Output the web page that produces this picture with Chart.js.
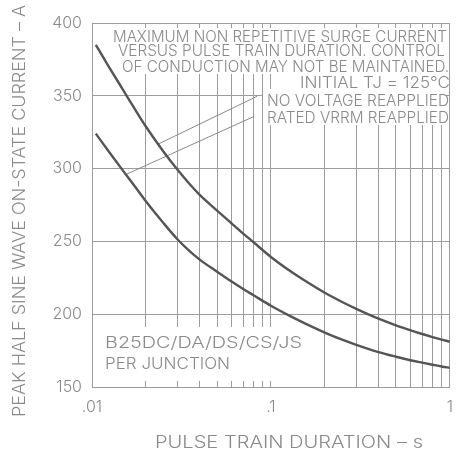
<!DOCTYPE html>
<html>
<head>
<meta charset="utf-8">
<script src="https://cdn.jsdelivr.net/npm/chart.js@4.4.1/dist/chart.umd.min.js"></script>
<style>
body { margin: 0; background: #fff; }
</style>
</head>
<body>
<canvas id="graphe" width="464" height="452"></canvas>
<script>
// durees du train d'impulsions (s)
var durees = [0.0105, 0.0125, 0.015, 0.0175, 0.02, 0.025, 0.03, 0.035, 0.04, 0.05, 0.06, 0.07, 0.08,
              0.1, 0.13, 0.16, 0.2, 0.25, 0.3, 0.4, 0.5, 0.6, 0.7, 0.8, 0.9, 1.0];
// courant de surcharge (A)
var courantSansTension = [385, 369.4, 353.6, 340.2, 328.9, 311.9, 299.3, 289.6, 282, 271.2, 262.6, 255.4, 249.4,
                          239.3, 229.1, 221.9, 214.7, 208.4, 203.7, 196.9, 192.3, 189, 186.4, 184.3, 182.6, 181.1];
var courantVrrm = [324, 311.2, 298.1, 287.2, 277.6, 262.8, 251.5, 243.5, 237.5, 229.2, 222.6, 217.3, 213,
                   205.8, 198.3, 192.8, 187.4, 182.5, 179, 174, 170.8, 168.4, 166.7, 165.3, 164.1, 163.2];

// reperes des legendes (points en coordonnees du graphe)
var repereSansTension = [{x: 0.0236, y: 317}, {x: 0.0838, y: 349.7}];
var repereVrrm = [{x: 0.0155, y: 296}, {x: 0.0807, y: 335.9}];

var grilleX = [0.01, 0.02, 0.03, 0.04, 0.05, 0.06, 0.07, 0.08, 0.09, 0.1, 0.2, 0.3, 0.4, 0.5, 0.6, 0.7, 0.8, 0.9, 1];
var valeursLabelsX = [0.01, 0.1, 1];
var labelsX = ['.01', '.1', '1'];
var yMin = 150, yMax = 400, yPas = 50;

var texteHaut = [
    'MAXIMUM NON REPETITIVE SURGE CURRENT',
    'VERSUS PULSE TRAIN DURATION. CONTROL',
    'OF CONDUCTION MAY NOT BE MAINTAINED.',
    'INITIAL TJ = 125\u00B0C',
    'NO VOLTAGE REAPPLIED',
    'RATED VRRM REAPPLIED'
];
var texteBas = ['B25DC/DA/DS/CS/JS', 'PER JUNCTION'];
var titreY = 'PEAK HALF SINE WAVE ON-STATE CURRENT \u2013 A';
var titreX = 'PULSE TRAIN DURATION \u2013 s';

var police = "Inter, 'DejaVu Sans', sans-serif";
var gris = '#8a8a8a';

function points(xs, ys)
{
    return xs.map(function (x, i) {
        return {x: x, y: ys[i]};
    });
}

// texte etire a une largeur donnee
function texteAjuste(ctx, txt, x, y, largeur, taille)
{
    ctx.save();
    ctx.font = '300 ' + taille + 'px ' + police;
    var w = ctx.measureText(txt).width;
    ctx.translate(x, y);
    ctx.scale(largeur / w, 1);
    ctx.textAlign = 'left';
    ctx.textBaseline = 'alphabetic';
    ctx.fillStyle = gris;
    ctx.fillText(txt, 0, 0);
    ctx.restore();
}

var pluginTextes = {
    id: 'textes',
    beforeDatasetsDraw: function (chart) {
        var ctx = chart.ctx, a = chart.chartArea;
        ctx.save();
        ctx.fillStyle = '#fff';
        // zones de texte : la grille s'arrete autour
        ctx.fillRect(a.left + 5, a.top + 5, a.right - a.left - 10, 74 - a.top - 5);
        ctx.fillRect(295, 74, a.right - 5 - 295, 16);
        ctx.fillRect(263, 89, a.right - 5 - 263, 36);
        ctx.fillRect(a.left + 5, 327, 282 - a.left - 5, 54);
        ctx.restore();
    },
    afterDraw: function (chart) {
        var ctx = chart.ctx;
        texteAjuste(ctx, texteHaut[0], 113, 42, 334, 16);
        texteAjuste(ctx, texteHaut[1], 118, 56, 327, 16);
        texteAjuste(ctx, texteHaut[2], 122, 72, 327, 16);
        texteAjuste(ctx, texteHaut[3], 300, 88, 150, 16);
        texteAjuste(ctx, texteHaut[4], 267, 106, 182, 16);
        texteAjuste(ctx, texteHaut[5], 267, 123, 182, 16);
        texteAjuste(ctx, texteBas[0], 105, 348, 197, 16);
        texteAjuste(ctx, texteBas[1], 105, 369, 125, 16);
        texteAjuste(ctx, titreX, 155, 448, 268, 17);

        ctx.save();
        ctx.translate(25, 417);
        ctx.rotate(-Math.PI / 2);
        texteAjuste(ctx, titreY, 0, 0, 412, 17);
        ctx.restore();
    }
};

var ctx = document.getElementById('graphe');

var graphe = new Chart(ctx, {
    type: 'line',
    data: {
        datasets: [{
            label: 'NO VOLTAGE REAPPLIED',
            data: points(durees, courantSansTension),
            borderColor: '#555',
            borderWidth: 2.4,
            pointRadius: 0,
            cubicInterpolationMode: 'monotone'
        }, {
            label: 'RATED VRRM REAPPLIED',
            data: points(durees, courantVrrm),
            borderColor: '#555',
            borderWidth: 2.4,
            pointRadius: 0,
            cubicInterpolationMode: 'monotone'
        }, {
            data: repereSansTension,
            borderColor: '#888',
            borderWidth: 1,
            pointRadius: 0
        }, {
            data: repereVrrm,
            borderColor: '#888',
            borderWidth: 1,
            pointRadius: 0
        }]
    },
    options: {
        responsive: false,
        animation: false,
        devicePixelRatio: 1,
        layout: {
            padding: {top: 23, right: 7, bottom: 0, left: 0}
        },
        plugins: {
            legend: {display: false},
            tooltip: {enabled: false}
        },
        scales: {
            x: {
                type: 'logarithmic',
                min: 0.01,
                max: 1,
                afterBuildTicks: function (scale) {
                    scale.ticks = grilleX.map(function (v) { return {value: v}; });
                },
                afterFit: function (scale) {
                    scale.height = 65;
                },
                grid: {color: '#9c9c9c', lineWidth: 1, drawTicks: false},
                border: {color: '#9c9c9c'},
                ticks: {
                    autoSkip: false,
                    maxRotation: 0,
                    padding: 11,
                    color: gris,
                    font: {family: police, size: 16, weight: 300},
                    callback: function (value) {
                        for (var i = 0; i < valeursLabelsX.length; i++) {
                            if (Math.abs(value - valeursLabelsX[i]) < 1e-9) {
                                return labelsX[i];
                            }
                        }
                        return '';
                    }
                }
            },
            y: {
                min: yMin,
                max: yMax,
                afterFit: function (scale) {
                    scale.width = 92;
                },
                grid: {color: '#9c9c9c', lineWidth: 1, drawTicks: false},
                border: {color: '#9c9c9c'},
                ticks: {
                    stepSize: yPas,
                    padding: 10,
                    color: gris,
                    font: {family: police, size: 16, weight: 300}
                }
            }
        }
    },
    plugins: [pluginTextes]
});
</script>
</body>
</html>
